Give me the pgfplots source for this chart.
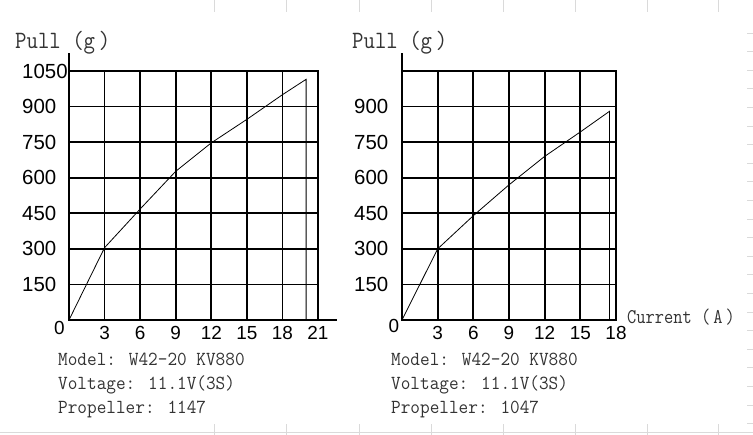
\documentclass[border=0pt]{standalone}
\usepackage{fontspec}
\setmainfont{Liberation Sans}
\usepackage{graphicx}
\usepackage{pgfplots}
\pgfplotsset{compat=1.18}

\definecolor{txt}{HTML}{333333}
\definecolor{sheet}{HTML}{DADADA}

% condensed mono text, as in the reference's label font
\newcommand\lab[3]{{\ttfamily\fontsize{#1}{#1}\selectfont\scalebox{#2}[1]{#3}}}

% shared look of both pull charts
\pgfplotsset{pullchart/.style={
	scale only axis,
	height=249bp,
	ymin=0, ymax=1050,
	grid=major,
	grid style={black, line width=1.8bp},
	axis line style={black, line width=1.8bp},
	major tick length=0pt,
	/pgf/number format/assume math mode=true,
	/pgf/number format/1000 sep={},
	xticklabel style={font=\fontsize{19}{19}\selectfont, inner sep=0pt, anchor=center, yshift=-13bp},
	yticklabel style={font=\fontsize{20.5}{20.5}\selectfont, inner sep=0pt, anchor=west},
	clip=false,
	anchor=south west,
}}

\begin{document}
\begin{tikzpicture}
\useasboundingbox (0,0) rectangle (753bp,-435bp);

% faint spreadsheet lines behind the picture
\begin{scope}[sheet, line width=0.8bp]
	\draw (0,-432bp) -- (753bp,-432bp);
	\foreach \x in {214,286,359,431,503,575,647,718} {
		\draw (\x bp,0) -- (\x bp,-12bp);
		\draw (\x bp,-424bp) -- (\x bp,-435bp);
	}
	\foreach \k in {0,...,21} {
		\draw (747bp,{-(33+18.6*\k)*1bp}) -- (753bp,{-(33+18.6*\k)*1bp});
	}
\end{scope}

% left: propeller 1147
\begin{axis}[pullchart,
	at={(69bp,-320bp)},
	width=249bp,
	xmin=0, xmax=21,
	xtick={3,6,...,21},
	ytick={150,300,...,1050},
	yticklabel style={xshift=-47bp},
	]
	\addplot[black, line width=0.8bp, mark=none] coordinates {
		(0,0) (3,305) (6,468) (9,627) (12,747) (15,846) (18,950) (20,1015) (20,0)
	};
	\draw[black, line width=1.8bp] (axis cs:0,1050) -- (axis cs:0,1126);
	\draw[black, line width=1.8bp] (axis cs:21,0) -- (axis cs:22.6,0);
\end{axis}

% right: propeller 1047
\begin{axis}[pullchart,
	at={(402bp,-320bp)},
	width=214bp,
	xmin=0, xmax=18,
	xtick={3,6,...,18},
	ytick={150,300,...,900},
	extra y ticks={1050},
	extra y tick labels={},
	yticklabel style={xshift=-48bp},
	]
	\addplot[black, line width=0.8bp, mark=none] coordinates {
		(0,0) (3,300) (6,440) (9,570) (12,690) (15,793) (17.45,880) (17.45,0)
	};
	\draw[black, line width=1.8bp] (axis cs:0,1050) -- (axis cs:0,1126);
\end{axis}

% zero labels
\node[inner sep=0pt, font=\fontsize{19}{19}\selectfont] at (59.5bp,-328bp) {0};
\node[inner sep=0pt, font=\fontsize{19}{19}\selectfont] at (394bp,-326bp) {0};

% axis titles and motor notes
\begin{scope}[every node/.style={inner sep=0pt, anchor=base west, text=txt}]
	\node at (15bp,-48bp) {\lab{25}{0.89}{Pull (g\,)}};
	\node at (352bp,-48bp) {\lab{25}{0.89}{Pull (g\,)}};
	\node at (627bp,-323bp) {\lab{21}{0.857}{Current (\,A\,)}};

	\node at (58bp,-365bp) {\lab{20}{0.94}{Model: W42-20 KV880}};
	\node at (58bp,-389bp) {\lab{20}{0.94}{Voltage: 11.1V(3S)}};
	\node at (58bp,-413bp) {\lab{20}{0.94}{Propeller: 1147}};

	\node at (391bp,-365bp) {\lab{20}{0.94}{Model: W42-20 KV880}};
	\node at (391bp,-389bp) {\lab{20}{0.94}{Voltage: 11.1V(3S)}};
	\node at (391bp,-413bp) {\lab{20}{0.94}{Propeller: 1047}};
\end{scope}
\end{tikzpicture}
\end{document}
